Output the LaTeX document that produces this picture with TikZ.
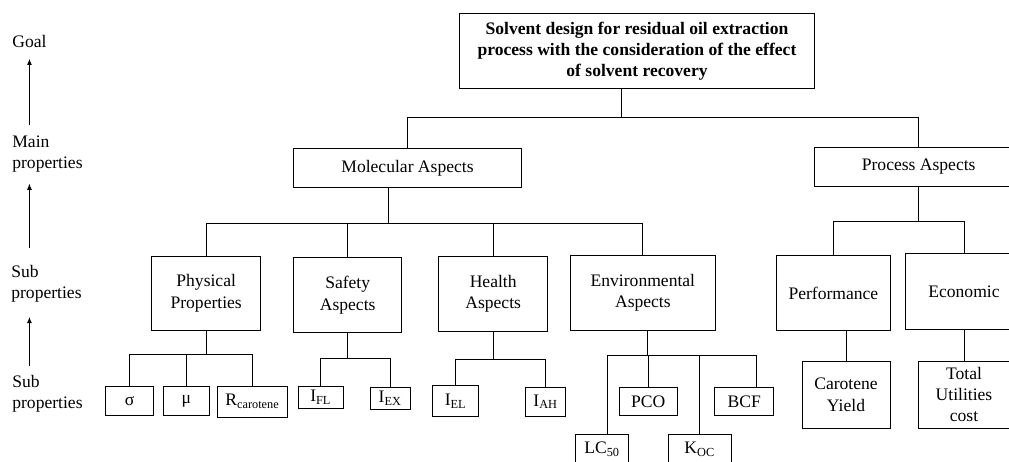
\documentclass[tikz,border=0pt]{standalone}
\usepackage{fontspec}
\setmainfont{Liberation Serif}
\usepackage{tikz}
\usetikzlibrary{positioning, arrows.meta, calc}

\tikzset{
    box/.style={draw, line width=0.55pt, align=center, inner sep=0pt},
    link/.style={line width=0.5pt},
    uparrow/.style={-{Latex[length=3.5pt,width=2.8pt]}, line width=0.5pt},
    side/.style={align=left, anchor=west, inner sep=0pt}
}

\begin{document}
\begin{tikzpicture}[x=0.02cm, y=-0.02cm]
    \useasboundingbox (0,0) rectangle (1009,462);
    \clip (0,0) rectangle (1009,462);

    % Level labels on the left
    \node[side] (lgoal) at (12,41.7) {Goal};
    \node[side] (lmain) at (12,154.5) {Main\\properties};
    \node[side] (lsub) at (11,284) {Sub\\properties};
    \node[side] (lleaf) at (12,394) {Sub\\properties};
    \draw[uparrow, shorten <=6pt, shorten >=6pt] (lmain.north -| lgoal.south) -- (lgoal.south);
    \draw[uparrow, shorten <=10pt, shorten >=6pt] (lsub.north -| lgoal.south) -- (lmain.south -| lgoal.south);
    \draw[uparrow, shorten <=5pt, shorten >=8pt] (lleaf.north -| lgoal.south) -- (lsub.south -| lgoal.south);

    % Goal
    \node[box, font=\bfseries, minimum width=7.12cm, minimum height=1.50cm] (goal) at (637,50.8)
        {Solvent design for residual oil extraction\\process with the consideration of the effect\\of solvent recovery};

    % Main properties
    \node[box, minimum width=4.57cm, minimum height=0.79cm] (mol) at (407.5,168) {Molecular Aspects};
    \node[box, minimum width=4.18cm, minimum height=0.77cm] (proc) at (918.7,166.9) {Process Aspects};

    % Sub properties
    \node[box, minimum width=2.17cm, minimum height=1.49cm] (phys) at (206.2,293.3) {Physical\\Properties};
    \node[box, minimum width=2.17cm, minimum height=1.50cm] (safe) at (347.7,295.2) {Safety\\Aspects};
    \node[box, minimum width=2.17cm, minimum height=1.50cm] (health) at (493.2,294.2) {Health\\Aspects};
    \node[box, minimum width=2.89cm, minimum height=1.50cm] (env) at (642.9,292.7) {Environmental\\Aspects};
    \node[box, minimum width=2.27cm, minimum height=1.51cm] (perf) at (833.4,293) {Performance};
    \node[box, minimum width=2.33cm, minimum height=1.51cm] (econ) at (964,291.7) {Economic};

    % Leaves
    \node[box, minimum width=0.96cm, minimum height=0.58cm] (sig) at (129.7,400.7) {σ};
    \node[box, minimum width=0.92cm, minimum height=0.59cm] (mu) at (186.3,401) {μ};
    \node[box, minimum width=1.41cm, minimum height=0.62cm] (rcar) at (252.5,401.5) {R\textsubscript{carotene}};
    \node[box, minimum width=0.90cm, minimum height=0.44cm] (ifl) at (320.8,397) {I\textsubscript{FL}};
    \node[box, minimum width=0.81cm, minimum height=0.45cm] (iex) at (390.3,398.5) {I\textsubscript{EX}};
    \node[box, minimum width=0.91cm, minimum height=0.63cm] (iel) at (455.7,401) {I\textsubscript{EL}};
    \node[box, minimum width=0.81cm, minimum height=0.59cm] (iah) at (545.7,401.8) {I\textsubscript{AH}};
    \node[box, minimum width=1.16cm, minimum height=0.57cm] (pco) at (648.3,401.5) {PCO};
    \node[box, minimum width=1.17cm, minimum height=0.57cm] (bcf) at (744.2,401.7) {BCF};
    \node[box, minimum width=1.07cm, minimum height=0.60cm] (lc) at (602.2,449) {LC\textsubscript{50}};
    \node[box, minimum width=1.26cm, minimum height=0.60cm] (koc) at (699.8,449) {K\textsubscript{OC}};
    \node[box, minimum width=1.76cm, minimum height=1.34cm] (car) at (846,394.8) {Carotene\\Yield};
    \node[box, minimum width=1.84cm, minimum height=1.34cm] (total) at (964,394.8) {Total\\Utilities\\cost};

    % Connectors
    \draw[link] ([xshift=-0.32cm]goal.south) -- ++(0,28.4) coordinate (gbus) -| (mol.north);
    \draw[link] (gbus) -| (proc.north);

    \draw[link] ([xshift=-0.39cm]mol.south) -- ++(0,35) coordinate (mbus) -| (phys.north);
    \draw[link] (mbus) -| (safe.north);
    \draw[link] (mbus) -| (health.north);
    \draw[link] (mbus) -| (env.north);

    \draw[link] (proc.south) -- ++(0,34.7) coordinate (pbus) -| (perf.north);
    \draw[link] (pbus) -| (econ.north);

    \draw[link] (phys.south) -- ++(0,23.6) coordinate (phbus) -| (sig.north);
    \draw[link] (phbus) -| (mu.north);
    \draw[link] (phbus) -| (rcar.north);

    \draw[link] (safe.south) -- ++(0,25) coordinate (sbus) -| (ifl.north);
    \draw[link] (sbus) -| (iex.north);

    \draw[link] (health.south) -- ++(0,27.6) coordinate (hbus) -| (iel.north);
    \draw[link] (hbus) -| (iah.north);

    \draw[link] ([xshift=0.1cm]env.south) -- ++(0,25) coordinate (ebus) -| ([xshift=0.11cm]lc.north);
    \draw[link] (ebus) -| (pco.north);
    \draw[link] (ebus) -| (koc.north);
    \draw[link] (ebus) -| ([xshift=0.25cm]bcf.north);

    \draw[link] (car.north) -- (car.north |- perf.south);
    \draw[link] (econ.south) -- (total.north);
\end{tikzpicture}
\end{document}
